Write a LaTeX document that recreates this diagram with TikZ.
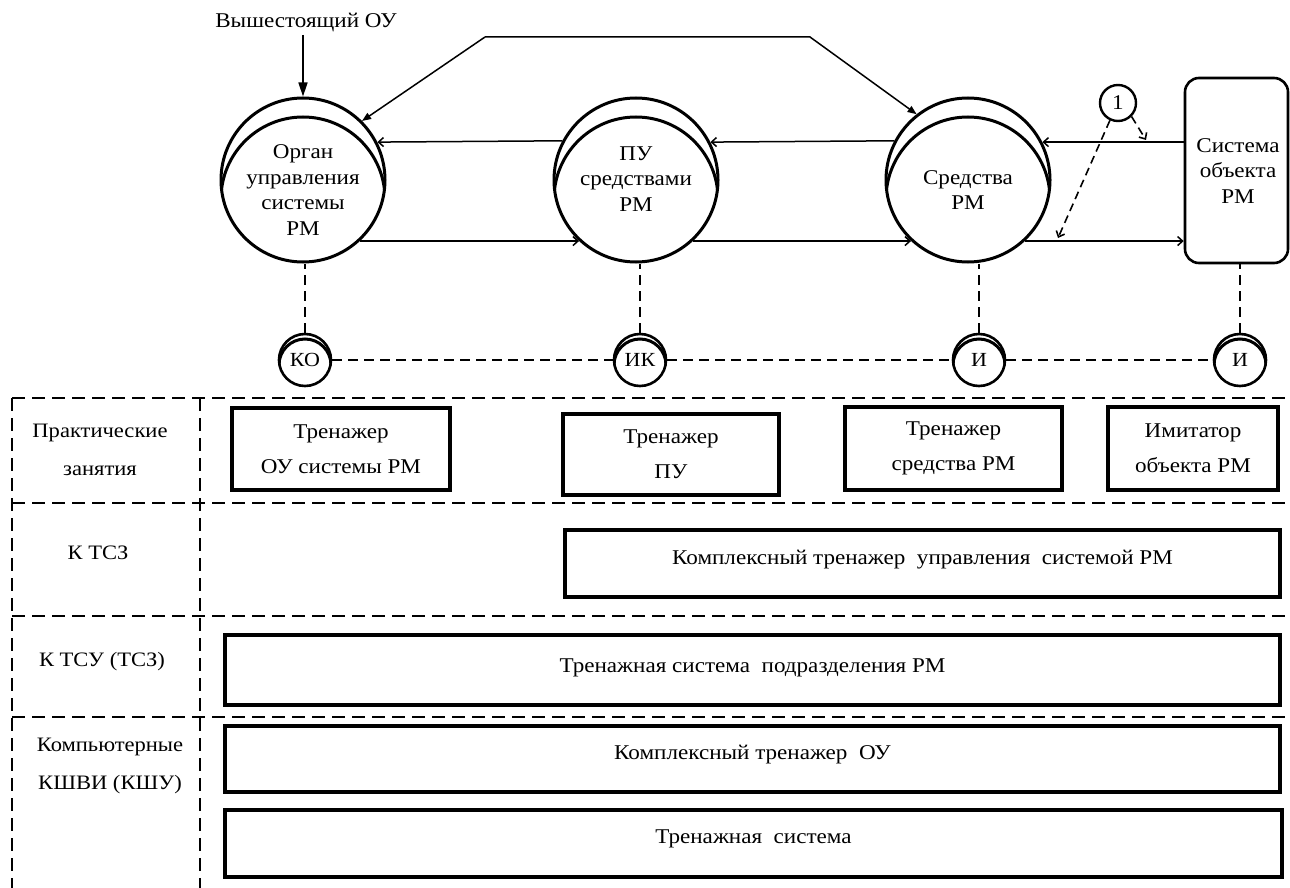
\documentclass[tikz,border=0pt]{standalone}
\usepackage{fontspec}
\setmainfont[FakeStretch=1.1]{Liberation Serif}
\usetikzlibrary{calc,arrows.meta}
\newcommand\coinarc[3]{%
  \begin{scope}
    \clip (#1.center) circle (#2);
    \draw[line width=3pt] ($(#1.center)+(0,#3)$) circle (#2);
  \end{scope}}
\tikzset{
  bigcoin/.style={circle, draw, line width=3pt, minimum size=164pt, inner sep=0pt},
  smallcoin/.style={circle, draw, line width=2.6pt, minimum size=52pt, inner sep=0pt, font=\fontsize{20}{24}\selectfont},
  txt/.style={align=center, font=\fontsize{21}{25.5}\selectfont},
  wide/.style={align=center, font=\fontsize{21}{35}\selectfont},
  tbox/.style={draw, line width=3.5pt, inner sep=0pt},
  grid/.style={line width=1.8pt, dash pattern=on 13pt off 7pt},
  dcon/.style={line width=1.8pt, dash pattern=on 10pt off 6pt},
  harrow/.style={line width=1.5pt, -{Straight Barb[length=5pt,width=9pt]}},
  darrow/.style={line width=1.5pt, -{Triangle[length=9pt,width=7pt]}},
  dasharrow/.style={line width=1.6pt, dash pattern=on 8pt off 5pt, -{Straight Barb[length=5pt,width=9pt]}},
}
\begin{document}
\begin{tikzpicture}[x=1pt,y=-1pt]
\useasboundingbox (0,0) rectangle (1290,888);

% header
\node[txt] (head) at (306,22) {Вышестоящий ОУ};

% big coins
\node[bigcoin] (c1) at (303,180) {};
\node[bigcoin] (c2) at (636,180) {};
\node[bigcoin] (c3) at (968,180) {};
\coinarc{c1}{82}{19}
\coinarc{c2}{82}{19}
\coinarc{c3}{82}{19}
\node[txt] (c1t) at (303,190) {Орган\\управления\\системы\\РМ};
\node[txt] (c2t) at (636,179) {ПУ\\средствами\\РМ};
\node[txt] (c3t) at (968,190) {Средства\\РМ};

% object system box
\node[draw, line width=2.6pt, rounded corners=14pt, minimum width=103pt, minimum height=185pt, inner sep=0pt] (sys) at (1236.5,170.5) {};
\node[txt] (syst) at (1238,171) {Система\\объекта\\РМ};

% marker 1
\node[circle, draw, line width=2.4pt, minimum size=36pt, inner sep=0pt, font=\fontsize{21}{24}\selectfont] (one) at (1118,103) {1};

% top polyline arrows
\coordinate (tl) at (485,37);
\coordinate (tr) at (810,37);
\draw[darrow] (tl) -- (c1.45);
\draw[darrow] (tl) -- (tr) -- (c3.128);

% header arrow
\draw[line width=1.6pt, -{Triangle[length=14pt,width=9pt]}] (head.south -| c1.north) -- (c1.north);

% horizontal arrows
\draw[harrow] (sys.west |- c3.27.6) -- (c3.27.6);
\draw[harrow] (c3.152.4) -- (c2.27.6);
\draw[harrow] (c2.152.4) -- (c1.27.6);
\draw[harrow] (c1.-47) -- (c2.-133);
\draw[harrow] (c2.-47) -- (c3.-133);
\draw[harrow] (c3.-47) -- (sys.west |- c3.-47);

% dashed arrows from marker 1
\coordinate (t1) at (1146,140);
\coordinate (t2) at (1058,238);
\draw[dasharrow] (one.-45) -- (t1);
\draw[dasharrow] (one.-115) -- (t2);

% small coins
\node[smallcoin] (ko) at (305,360) {КО};
\node[smallcoin] (ik) at (640,360) {ИК};
\node[smallcoin] (i1) at (979,360) {И};
\node[smallcoin] (i2) at (1240,360) {И};
\coinarc{ko}{26}{5}
\coinarc{ik}{26}{5}
\coinarc{i1}{26}{5}
\coinarc{i2}{26}{5}

% dashed connectors
\draw[dcon] (ko.north) -- (ko.north |- c1.south);
\draw[dcon] (ik.north) -- (ik.north |- c2.south);
\draw[dcon] (i1.north) -- (i1.north |- c3.south);
\draw[dcon] (i2.north) -- (i2.north |- sys.south);
\draw[dcon] (ko.east) -- (ik.west);
\draw[dcon] (ik.east) -- (i1.west);
\draw[dcon] (i1.east) -- (i2.west);

% table grid
\draw[grid] (12,398) -- (1290,398);
\draw[grid] (12,503) -- (1290,503);
\draw[grid] (12,616) -- (1290,616);
\draw[grid] (12,717) -- (1290,717);
\draw[grid] (12,398) -- (12,888);
\draw[grid] (200,398) -- (200,888);

% row labels
\node[wide, font=\fontsize{20.5}{38}\selectfont] (r1) at (100,450) {Практические\\занятия};
\node[txt, font=\fontsize{20.5}{24}\selectfont] (r2) at (98,553) {К ТСЗ};
\node[txt, font=\fontsize{20.5}{24}\selectfont] (r3) at (102,662) {К ТСУ (ТСЗ)};
\node[wide, font=\fontsize{20.5}{38}\selectfont] (r4) at (110,766) {Компьютерные\\КШВИ (КШУ)};

% row 1 boxes
\node[tbox, minimum width=218pt, minimum height=82pt] (b1) at (341,449) {};
\node[wide] at (b1.center) {Тренажер\\ОУ системы РМ};
\node[tbox, minimum width=216pt, minimum height=81pt] (b2) at (671,454.5) {};
\node[wide] at (b2.center) {Тренажер\\ПУ};
\node[tbox, minimum width=217pt, minimum height=83pt] (b3) at (953.5,448.5) {};
\node[wide] at (b3.center) {Тренажер\\средства РМ};
\node[tbox, minimum width=170pt, minimum height=83pt] (b4) at (1193,448.5) {};
\node[wide] at (b4.center) {Имитатор\\объекта РМ};

% wide boxes
\node[tbox, minimum width=715pt, minimum height=67pt] (b5) at (922.5,563.5) {};
\node[txt] at ($(b5.center)+(0,-4)$) {Комплексный тренажер\ \ управления\ \ системой РМ};
\node[tbox, minimum width=1055pt, minimum height=70pt] (b6) at (752.5,670) {};
\node[txt] at ($(b6.center)+(0,-2)$) {Тренажная система\ \ подразделения РМ};
\node[tbox, minimum width=1055pt, minimum height=66pt] (b7) at (752.5,759) {};
\node[txt] at ($(b7.center)+(0,-4)$) {Комплексный тренажер\ \ ОУ};
\node[tbox, minimum width=1057pt, minimum height=67pt] (b8) at (753.5,843.5) {};
\node[txt] at ($(b8.center)+(0,-5)$) {Тренажная\ \ система};
\end{tikzpicture}
\end{document}
